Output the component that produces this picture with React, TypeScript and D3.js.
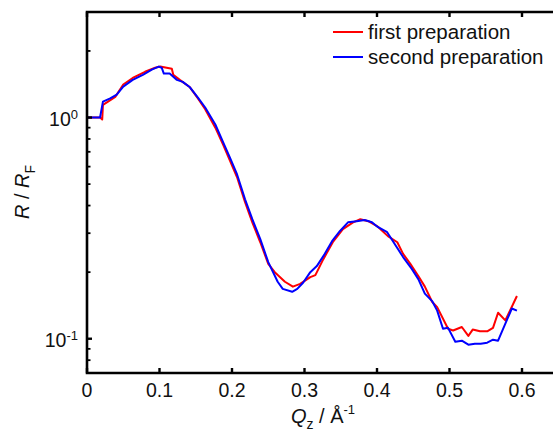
import React from "react";
import * as d3 from "d3";

const blueQ = [0, 0.018, 0.022, 0.032, 0.041, 0.050, 0.063, 0.077, 0.090, 0.099, 0.103, 0.106, 0.114, 0.124, 0.132, 0.142, 0.153, 0.163, 0.177, 0.188, 0.197, 0.207, 0.218, 0.228, 0.239, 0.250, 0.263, 0.270, 0.283, 0.290, 0.298, 0.308, 0.317, 0.328, 0.338, 0.349, 0.360, 0.372, 0.383, 0.393, 0.401, 0.414, 0.422, 0.436, 0.448, 0.457, 0.466, 0.476, 0.483, 0.491, 0.498, 0.508, 0.517, 0.526, 0.535, 0.543, 0.552, 0.560, 0.567, 0.586, 0.593];
const blueR = [1.0, 1.0, 1.18, 1.22, 1.27, 1.38, 1.48, 1.56, 1.65, 1.70, 1.68, 1.58, 1.58, 1.48, 1.45, 1.37, 1.23, 1.11, 0.93, 0.77, 0.66, 0.553, 0.427, 0.347, 0.282, 0.222, 0.181, 0.168, 0.163, 0.168, 0.179, 0.200, 0.213, 0.242, 0.276, 0.307, 0.336, 0.340, 0.344, 0.336, 0.320, 0.303, 0.276, 0.234, 0.207, 0.186, 0.160, 0.148, 0.134, 0.111, 0.112, 0.097, 0.098, 0.094, 0.095, 0.095, 0.096, 0.099, 0.098, 0.137, 0.134];

const redQ = [0, 0.018, 0.021, 0.022, 0.029, 0.039, 0.050, 0.063, 0.080, 0.094, 0.101, 0.117, 0.119, 0.128, 0.142, 0.153, 0.163, 0.177, 0.188, 0.197, 0.207, 0.218, 0.228, 0.239, 0.250, 0.259, 0.273, 0.284, 0.294, 0.308, 0.315, 0.326, 0.339, 0.353, 0.367, 0.377, 0.388, 0.400, 0.415, 0.428, 0.436, 0.446, 0.457, 0.466, 0.476, 0.483, 0.498, 0.505, 0.517, 0.526, 0.532, 0.542, 0.552, 0.560, 0.567, 0.577, 0.593];
const redR = [1.0, 1.0, 0.98, 1.14, 1.18, 1.24, 1.41, 1.51, 1.61, 1.68, 1.70, 1.66, 1.56, 1.48, 1.37, 1.22, 1.09, 0.90, 0.75, 0.64, 0.537, 0.414, 0.336, 0.273, 0.218, 0.200, 0.181, 0.172, 0.177, 0.190, 0.194, 0.229, 0.273, 0.313, 0.336, 0.347, 0.340, 0.323, 0.291, 0.273, 0.242, 0.218, 0.192, 0.172, 0.147, 0.139, 0.111, 0.109, 0.113, 0.103, 0.110, 0.108, 0.108, 0.112, 0.131, 0.121, 0.156];

const xTicks = [0, 0.1, 0.2, 0.3, 0.4, 0.5, 0.6];
const xTickLabels = ["0", "0.1", "0.2", "0.3", "0.4", "0.5", "0.6"];
const yMajor = [0.1, 1];
const yMajorExp = ["-1", "0"];
const yMinor = [0.07, 0.08, 0.09, 0.2, 0.3, 0.4, 0.5, 0.6, 0.7, 0.8, 0.9, 2, 3];
const seriesNames = ["first preparation", "second preparation"];
const seriesColors = ["#ff0000", "#0000ff"];

export default function App() {
  const W = 553, H = 432;
  const left = 87, top = 12, bottom = 373;
  const x = d3.scaleLinear().domain([0, 0.65]).range([left, left + 0.65 * 725]);
  const y = d3.scaleLog().domain([0.07, 3]).range([bottom, top]);
  const right = x(0.65);
  const font = "'Liberation Sans', Arial, sans-serif";

  const line = d3.line<[number, number]>().x(d => x(d[0])).y(d => y(d[1]));
  const redPts = redQ.map((q, i) => [q, redR[i]] as [number, number]);
  const bluePts = blueQ.map((q, i) => [q, blueR[i]] as [number, number]);

  return (
    <svg width={W} height={H} style={{ position: "fixed", left: 0, top: 0, background: "#fff" }} fontFamily={font}>
      <rect x={0} y={0} width={W} height={H} fill="#fff" />
      <path d={line(redPts) || ""} fill="none" stroke={seriesColors[0]} strokeWidth={2} strokeLinejoin="round" />
      <path d={line(bluePts) || ""} fill="none" stroke={seriesColors[1]} strokeWidth={2} strokeLinejoin="round" />

      {/* axes frame */}
      <path d={`M${right},${top}H${left}V${bottom}H${right}`} fill="none" stroke="#000" strokeWidth={2.6} />

      {/* x ticks */}
      {xTicks.map((t, i) => (
        <g key={"xt" + i}>
          <line x1={x(t)} x2={x(t)} y1={bottom} y2={bottom - 5} stroke="#000" strokeWidth={2.4} />
          <line x1={x(t)} x2={x(t)} y1={top} y2={top + 5} stroke="#000" strokeWidth={2.4} />
          <text x={x(t)} y={397} textAnchor="middle" fontSize={19.5} fill="#111">{xTickLabels[i]}</text>
        </g>
      ))}

      {/* y ticks */}
      {yMajor.map((t, i) => (
        <g key={"ym" + i}>
          <line x1={left} x2={left + 5} y1={y(t)} y2={y(t)} stroke="#000" strokeWidth={2.4} />
          <text x={78} y={y(t) + 8} textAnchor="end" fontSize={19.5} fill="#111">
            10<tspan fontSize={13} dy={-7}>{yMajorExp[i]}</tspan>
          </text>
        </g>
      ))}
      {yMinor.map((t, i) => (
        <line key={"yn" + i} x1={left} x2={left + 3.5} y1={y(t)} y2={y(t)} stroke="#000" strokeWidth={1.8} />
      ))}

      {/* legend */}
      {seriesNames.map((n, i) => (
        <g key={"lg" + i}>
          <line x1={333} x2={363} y1={32 + i * 25} y2={32 + i * 25} stroke={seriesColors[i]} strokeWidth={2} />
          <text x={368} y={39 + i * 25} fontSize={20.5} fill="#111">{n}</text>
        </g>
      ))}

      {/* x label */}
      <text x={323} y={423} textAnchor="middle" fontSize={20} fill="#111">
        <tspan fontStyle="italic">Q</tspan>
        <tspan fontSize={14} dy={6}>z</tspan>
        <tspan dy={-6}> / Å</tspan>
        <tspan fontSize={13} dy={-9}>-1</tspan>
      </text>

      {/* y label */}
      <text transform={`translate(29,192) rotate(-90)`} textAnchor="middle" fontSize={20} fill="#111">
        <tspan fontStyle="italic">R</tspan>
        <tspan> / </tspan>
        <tspan fontStyle="italic">R</tspan>
        <tspan fontSize={14} dy={6}>F</tspan>
      </text>
    </svg>
  );
}
